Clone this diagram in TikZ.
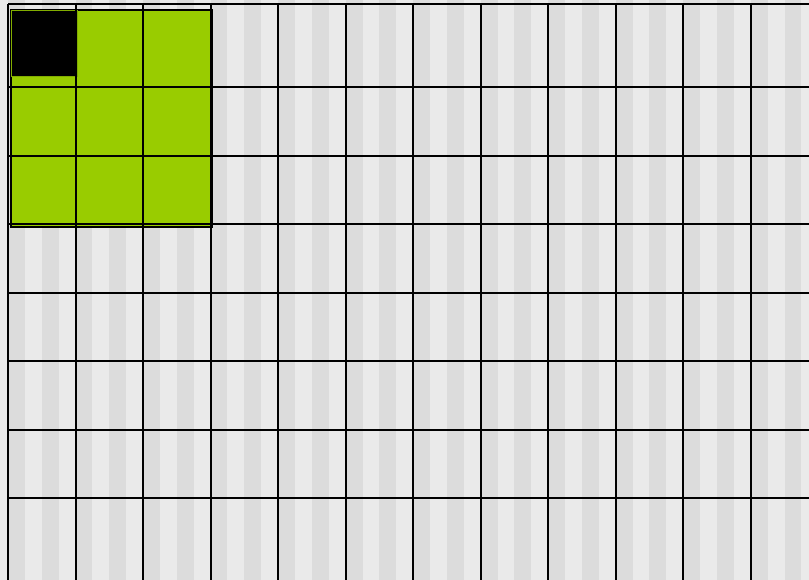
\documentclass[tikz,border=0pt]{standalone}
\usepackage{tikz}
\definecolor{stripelight}{HTML}{EAEAEA}
\definecolor{stripedark}{HTML}{DCDCDC}
\definecolor{kernelgreen}{HTML}{99CC00}
\tikzset{gridline/.style={line width=2pt, black}}

\begin{document}
\begin{tikzpicture}[x=1pt, y=-1pt]
  \coordinate (NW) at (0, 0);
  \coordinate (SE) at (809, 580);
  \useasboundingbox (NW) rectangle (SE);
  \fill[stripelight] (NW) rectangle (SE);
  % vertical stripes, two dark ones per cell
  \foreach \i in {0,...,11} {
    \fill[stripedark] (8+67.52*\i, 0) rectangle ++(16.9, 580);
    \fill[stripedark] (8+67.52*\i+33.8, 0) rectangle ++(16.9, 580);
  }
  \coordinate (G1) at (11, 10.5);
  \coordinate (G2) at (212, 227);
  \coordinate (K1) at (11.5, 10.5);
  \coordinate (K2) at (77, 77);
  \filldraw[fill=kernelgreen, draw=black, line width=2pt] (G1) rectangle (G2);
  \filldraw[fill=black, draw=kernelgreen!85!black, line width=1pt] (K1) rectangle (K2);
  % grid
  \draw[gridline] (8, 4) -- (809, 4);
  \foreach \j in {0,...,6}
    \draw[gridline] (8, 87+68.57*\j) -- (809, 87+68.57*\j);
  \foreach \i in {0,...,11}
    \draw[gridline] (8+67.52*\i, 4) -- (8+67.52*\i, 580);
\end{tikzpicture}
\end{document}
